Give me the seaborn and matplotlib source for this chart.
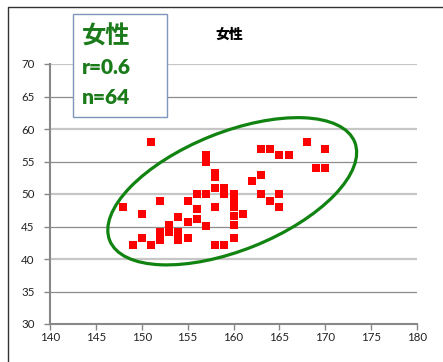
import matplotlib
matplotlib.use("Agg")
import matplotlib.pyplot as plt
import matplotlib.transforms as mtransforms
from matplotlib.patches import Ellipse, Rectangle
from matplotlib.lines import Line2D
import pandas as pd
import seaborn as sns

# Height (cm) and weight (kg) of the women in the sample
height_cm = [148, 149, 150, 150, 151, 151, 152, 152, 152, 153, 153,
             154, 154, 154, 155, 155, 155, 156, 156, 156, 157, 157,
             157, 157, 158, 158, 158, 158, 158, 159, 159, 159, 160,
             160, 160, 160, 160, 160, 161, 162, 163, 163, 163, 164,
             164, 165, 165, 165, 166, 168, 169, 170, 170]
weight_kg = [48, 42.2, 43.2, 47, 42.2, 58, 43, 44.2, 49, 44.2, 45.2,
             43, 44.2, 46.4, 43.2, 45.7, 49, 46.2, 47.7, 50, 45.1, 50,
             55, 56, 42.2, 48, 51, 52.6, 53.2, 42.2, 50, 51, 43.2,
             45.3, 46.6, 48, 49, 50, 47, 52, 50, 53, 57, 49,
             57, 48, 50, 56, 56, 58, 54, 54, 57]

x_ticks = [140, 145, 150, 155, 160, 165, 170, 175, 180]
y_ticks = [30, 35, 40, 45, 50, 55, 60, 65, 70]

chart_title = "女性"
label_group = "女性"
label_r = "r=0.6"
label_n = "n=64"

# centre of the highlighted cluster, in data units
cluster_centre = (159.86, 50.42)

GREEN = "#1b7b1b"
RING = "#118311"

df = pd.DataFrame({"height": height_cm, "weight": weight_kg})

W, H = 443, 362
fig = plt.figure(figsize=(W / 100, H / 100), dpi=100)
fig.patch.set_facecolor("white")
ax = fig.add_axes([50 / W, 38 / H, 367 / W, 260 / H])

# horizontal gridlines with alternating tones
for i, yv in enumerate(y_ticks[1:]):
    if i % 2 == 0:
        ax.axhline(yv, color="#8c8c8c", lw=0.9, zorder=0)
    else:
        ax.axhline(yv, color="#c6c6c6", lw=1.6, zorder=0)

sns.scatterplot(data=df, x="height", y="weight", ax=ax, marker="s",
                s=40, color="#ff0000", linewidth=0, zorder=3, legend=False)

ax.set_xlim(x_ticks[0], x_ticks[-1])
ax.set_ylim(y_ticks[0], y_ticks[-1])
ax.set_xticks(x_ticks)
ax.set_yticks(y_ticks)
ax.set_xlabel("")
ax.set_ylabel("")
for side in ("top", "right"):
    ax.spines[side].set_visible(False)
for side in ("left", "bottom"):
    ax.spines[side].set_color("#888888")
    ax.spines[side].set_linewidth(1.5)
ax.tick_params(axis="both", direction="out", length=4, width=1,
               color="#888888", labelsize=8.3, labelcolor="#222222")
ax.tick_params(axis="y", pad=7)
ax.tick_params(axis="x", pad=2)
for lab in ax.get_xticklabels() + ax.get_yticklabels():
    lab.set_family(["Lato", "DejaVu Sans"])

# ring around the main cluster
ring_tf = fig.dpi_scale_trans + mtransforms.ScaledTranslation(
    cluster_centre[0], cluster_centre[1], ax.transData)
ax.add_patch(Ellipse((0, 0), 2.64, 1.18, angle=21.9, fill=False,
                     edgecolor=RING, lw=2.3, transform=ring_tf,
                     clip_on=False, zorder=4))

# chart title
fig.text(229 / W, 1 - 35 / H, chart_title, ha="center", va="center",
         fontsize=10, fontweight="heavy", color="black",
         family=["Noto Sans CJK JP", "DejaVu Sans"])

# annotation box
fig.patches.append(Rectangle((73 / W, 1 - 117 / H), 94 / W, 103 / H,
                             transform=fig.transFigure, facecolor="white",
                             edgecolor="#7d96bb", lw=1.0, zorder=5))
fig.text(82 / W, 1 - 37 / H, label_group, ha="left", va="center",
         fontsize=17.5, fontweight="bold", color=GREEN, zorder=6,
         family=["Noto Sans CJK JP", "DejaVu Sans"])
fig.text(82 / W, 1 - 68 / H, label_r, ha="left", va="center",
         fontsize=15, fontweight="heavy", color=GREEN, zorder=6,
         family=["Lato", "DejaVu Sans"])
fig.text(82 / W, 1 - 98 / H, label_n, ha="left", va="center",
         fontsize=15, fontweight="heavy", color=GREEN, zorder=6,
         family=["Lato", "DejaVu Sans"])

# outer chart frame (left and top edges)
fig.lines.append(Line2D([7.5 / W, 7.5 / W, 1.0], [0.0, 1 - 6.5 / H, 1 - 6.5 / H],
                        transform=fig.transFigure, color="#333333", lw=1.0))

fig.savefig("out.png", dpi=100, facecolor="white")
